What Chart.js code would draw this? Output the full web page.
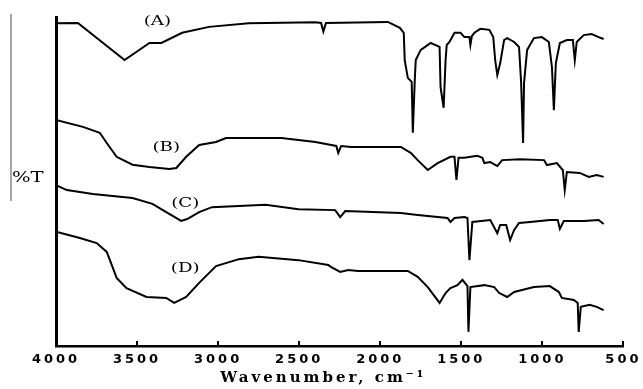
<!DOCTYPE html>
<html>
<head>
<meta charset="utf-8">
<script src="https://cdn.jsdelivr.net/npm/chart.js@4/dist/chart.umd.min.js"></script>
<style>
  html, body { margin: 0; padding: 0; background: #fff; }
  #wrap { width: 643px; height: 389px; }
</style>
</head>
<body>
<div id="wrap"><canvas id="ftir"></canvas></div>
<script>
// FTIR spectra, wavenumber (cm-1) against offset transmittance
const waveA = [4000, 3865, 3577, 3442, 3424, 3350, 3222, 3056, 2811, 2400, 2365, 2351, 2335, 1953, 1879, 1855, 1849, 1830, 1806, 1799, 1787, 1781, 1750, 1689, 1634, 1628, 1609, 1597, 1590, 1573, 1542, 1505, 1481, 1450, 1444, 1435, 1419, 1383, 1327, 1303, 1291, 1278, 1260, 1236, 1217, 1174, 1144, 1131, 1119, 1113, 1094, 1052, 1003, 960, 941, 929, 917, 892, 849, 812, 800, 788, 745, 696, 653, 622];
const transA = [98.1, 98.2, 86.9, 91.5, 92.1, 92.1, 95.2, 97.0, 98.1, 98.4, 98.2, 95.6, 98.2, 98.5, 96.7, 95.2, 86.9, 81.5, 80.3, 64.8, 80.9, 86.9, 90.0, 92.1, 90.9, 78.7, 72.4, 86.9, 91.5, 92.4, 95.2, 95.2, 93.9, 93.9, 91.5, 94.2, 95.2, 96.4, 96.1, 93.9, 86.9, 82.4, 86.0, 93.0, 93.6, 92.4, 90.9, 80.0, 61.7, 80.0, 90.0, 93.6, 93.9, 92.4, 84.8, 71.7, 86.0, 92.1, 93.0, 93.0, 86.9, 92.4, 94.5, 94.8, 93.9, 93.3];

const waveB = [4000, 3834, 3730, 3687, 3626, 3528, 3424, 3301, 3258, 3197, 3117, 3013, 2952, 2609, 2400, 2302, 2271, 2259, 2241, 2179, 1873, 1812, 1769, 1707, 1646, 1567, 1542, 1530, 1517, 1481, 1401, 1370, 1358, 1321, 1278, 1248, 1137, 990, 972, 911, 874, 862, 849, 770, 714, 665, 622];
const transB = [68.7, 66.6, 64.8, 61.7, 57.5, 55.1, 54.4, 53.8, 54.1, 57.5, 61.1, 62.0, 63.2, 63.2, 62.0, 61.1, 60.8, 58.7, 60.8, 60.5, 60.5, 58.7, 56.5, 53.5, 55.6, 57.5, 57.5, 50.5, 57.2, 57.2, 57.8, 57.2, 55.6, 55.9, 54.7, 56.5, 56.8, 56.5, 55.0, 55.6, 53.5, 47.4, 52.9, 52.6, 51.4, 52.0, 51.4];

const waveC = [4000, 3933, 3773, 3528, 3405, 3320, 3228, 3191, 3117, 3038, 2707, 2504, 2278, 2247, 2216, 1873, 1769, 1585, 1567, 1542, 1481, 1462, 1450, 1432, 1321, 1278, 1260, 1223, 1199, 1174, 1144, 1076, 954, 905, 892, 868, 745, 653, 622];
const transC = [48.9, 47.4, 46.2, 45.0, 43.2, 40.7, 38.0, 38.6, 40.7, 42.2, 42.9, 41.6, 41.3, 39.2, 41.0, 40.4, 39.8, 38.9, 37.7, 38.9, 39.2, 38.9, 26.1, 37.7, 38.3, 34.3, 36.8, 36.8, 32.2, 35.3, 37.4, 37.7, 38.3, 38.3, 35.6, 38.0, 38.0, 38.3, 37.1];

const waveD = [4000, 3853, 3749, 3687, 3651, 3626, 3565, 3442, 3320, 3271, 3197, 3117, 3013, 2872, 2750, 2504, 2320, 2302, 2247, 2198, 2137, 1830, 1769, 1707, 1634, 1597, 1567, 1524, 1493, 1462, 1456, 1444, 1358, 1297, 1266, 1217, 1174, 1052, 954, 898, 880, 806, 782, 776, 763, 708, 665, 622];
const transD = [34.7, 32.8, 31.3, 28.6, 24.0, 20.7, 17.6, 14.9, 14.6, 13.1, 14.9, 19.2, 24.3, 26.4, 27.1, 26.1, 24.6, 24.0, 22.5, 23.1, 22.8, 22.8, 21.0, 17.9, 13.1, 16.1, 17.6, 18.5, 20.1, 18.2, 4.3, 17.9, 18.5, 17.9, 16.1, 14.9, 16.4, 17.9, 18.2, 16.4, 14.6, 14.0, 13.1, 4.3, 11.9, 12.5, 11.9, 10.9];

const seriesNames = ['(A)', '(B)', '(C)', '(D)'];
const xTickValues = [4000, 3500, 3000, 2500, 2000, 1500, 1000, 500];
// trailing spaces nudge the centred axis title a little to the left
const xTitle = 'Wavenumber, cm\u207B\u00B9    ';
const yTitle = '%T';

// where each curve caption sits, in data units
const captionAnchors = [[3375, 98.6], [3320, 60.2], [3203, 43.2], [3203, 23.4]];

function toPoints(w, t) { return w.map((x, i) => ({ x: x, y: t[i] })); }

const curves = [[waveA, transA], [waveB, transB], [waveC, transC], [waveD, transD]];

// axis text is set wide, so give the scale labels some tracking
const tracking = {
  id: 'tracking',
  beforeDraw(chart) { chart.ctx.letterSpacing = '3px'; },
  afterDatasetsDraw(chart) { chart.ctx.letterSpacing = '0px'; }
};

const decorations = {
  id: 'decorations',
  afterDraw(chart) {
    const ctx = chart.ctx;
    const xs = chart.scales.x, ys = chart.scales.y;
    const area = chart.chartArea;
    ctx.save();
    ctx.letterSpacing = '0px';
    // inward tick marks on the wavenumber axis
    ctx.strokeStyle = '#000';
    ctx.lineWidth = 2;
    xTickValues.forEach(v => {
      const px = Math.round(xs.getPixelForValue(v));
      ctx.beginPath();
      ctx.moveTo(px, area.bottom);
      ctx.lineTo(px, area.bottom - 5);
      ctx.stroke();
    });
    // curve captions
    ctx.fillStyle = '#000';
    ctx.textAlign = 'center';
    ctx.textBaseline = 'middle';
    ctx.font = '13px "DejaVu Serif"';
    seriesNames.forEach((name, i) => {
      const px = xs.getPixelForValue(captionAnchors[i][0]);
      const py = ys.getPixelForValue(captionAnchors[i][1]);
      ctx.save();
      ctx.translate(px, py);
      ctx.scale(1.4, 1);
      ctx.fillText(name, 0, 0);
      ctx.restore();
    });
    // y label with its thin marker rule
    ctx.strokeStyle = '#8a8a8a';
    ctx.lineWidth = 1.5;
    ctx.beginPath();
    ctx.moveTo(11, 14);
    ctx.lineTo(11, 201);
    ctx.stroke();
    ctx.textAlign = 'left';
    ctx.font = '14px "DejaVu Serif"';
    ctx.save();
    ctx.translate(12, 178);
    ctx.scale(1.4, 1);
    ctx.fillText(yTitle, 0, 0);
    ctx.restore();
    ctx.restore();
  }
};

new Chart(document.getElementById('ftir'), {
  type: 'line',
  data: {
    datasets: curves.map((c, i) => ({
      label: seriesNames[i],
      data: toPoints(c[0], c[1]),
      borderColor: '#000',
      borderWidth: 2,
      pointRadius: 0,
      tension: 0,
      fill: false
    }))
  },
  options: {
    responsive: true,
    maintainAspectRatio: false,
    animation: false,
    events: [],
    layout: { padding: { left: 56, right: 16, top: 17, bottom: 0 } },
    plugins: { legend: { display: false }, tooltip: { enabled: false } },
    scales: {
      x: {
        type: 'linear',
        reverse: true,
        min: 500,
        max: 4000,
        afterBuildTicks: s => { s.ticks = xTickValues.map(v => ({ value: v })); },
        afterFit: s => { s.height = 43; },
        grid: { display: false, drawTicks: false },
        border: { display: true, color: '#000', width: 2.5 },
        ticks: {
          color: '#000',
          padding: 6,
          maxRotation: 0,
          font: { family: '"DejaVu Sans"', size: 13, weight: 'bold' },
          callback: v => String(v)
        },
        title: {
          display: true,
          text: xTitle,
          color: '#000',
          padding: { top: 0, bottom: 2 },
          font: { family: '"DejaVu Serif"', size: 15, weight: 'bold' }
        }
      },
      y: {
        type: 'linear',
        min: 0,
        max: 100,
        afterFit: s => { s.width = 0; },
        grid: { display: false, drawTicks: false },
        border: { display: true, color: '#000', width: 3 },
        ticks: { display: false }
      }
    }
  },
  plugins: [tracking, decorations]
});
</script>
</body>
</html>
